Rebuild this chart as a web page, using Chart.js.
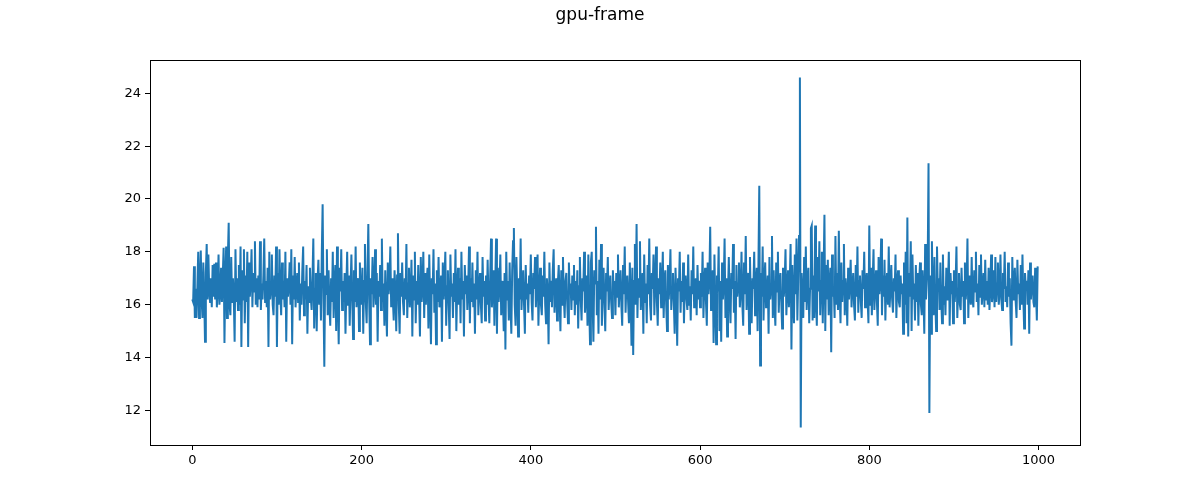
<!DOCTYPE html>
<html>
<head>
<meta charset="utf-8">
<title>gpu-frame</title>
<script src="https://cdn.jsdelivr.net/npm/chart.js@4.4.1/dist/chart.umd.min.js"></script>
<style>
  html, body { margin: 0; padding: 0; background: #fff; }
  #wrap { width: 1200px; height: 500px; }
</style>
</head>
<body>
<div id="wrap"><canvas id="gpuFrameChart" width="1200" height="500"></canvas></div>
<script>
// frame times, one value per frame (index 0..999)
const frameTimes = [
  16.2, 16.1, 17.45, 15.5, 16.6, 15.5, 16.7, 18.0, 15.5, 16.9,
  18.05, 16.2, 15.5, 17.6, 16.4, 14.6, 17.2, 18.3, 16.2, 17.9,
  16.5, 16.1, 17.0, 15.9, 17.5, 16.3, 17.55, 16.2, 17.6, 15.9,
  16.6, 17.9, 16.0, 16.4, 17.4, 16.1, 17.1, 18.15, 14.55, 17.0,
  18.2, 15.5, 17.8, 19.1, 16.0, 15.6, 17.8, 16.1, 17.0, 16.3,

  14.6, 18.1, 16.1, 17.0, 15.8, 17.5, 16.0, 18.2, 14.4, 17.3,
  16.2, 18.1, 15.3, 17.1, 16.1, 18.0, 14.4, 17.6, 16.3, 16.9,
  18.1, 15.9, 17.2, 16.5, 18.4, 16.0, 17.0, 15.9, 17.1, 16.2,
  18.4, 15.8, 16.8, 16.2, 17.1, 18.5, 16.1, 16.9, 15.9, 17.4,
  14.4, 18.0, 16.2, 16.6, 17.9, 16.0, 15.6, 17.1, 16.3, 18.2,

  14.4, 17.2, 16.0, 18.1, 16.4, 15.6, 17.6, 16.2, 16.9, 15.9,
  18.0, 14.6, 17.0, 16.3, 16.7, 17.6, 16.0, 18.1, 14.5, 17.1,
  16.2, 17.8, 15.9, 16.6, 17.2, 16.1, 17.6, 15.4, 16.8, 16.0,
  17.3, 18.2, 15.6, 16.9, 16.2, 17.5, 14.9, 16.7, 16.1, 17.4,
  16.3, 15.8, 17.0, 18.5, 15.1, 16.6, 17.2, 15.0, 16.9, 17.7,

  16.0, 17.2, 15.4, 17.9, 19.8, 16.2, 13.65, 17.1, 16.4, 18.1,
  15.6, 17.3, 16.0, 15.2, 17.0, 16.1, 18.0, 15.5, 16.8, 17.5,
  15.0, 18.2, 16.2, 14.5, 17.4, 16.5, 18.1, 15.8, 16.9, 16.1,
  17.2, 14.9, 16.6, 18.0, 16.0, 17.1, 15.2, 16.7, 17.9, 16.2,
  14.7, 17.3, 16.1, 18.2, 15.9, 16.8, 17.0, 15.0, 17.6, 16.3,

  16.0, 17.4, 14.9, 16.9, 18.3, 16.1, 15.3, 17.2, 19.05, 16.2,
  14.5, 17.0, 16.4, 17.8, 15.9, 16.6, 18.1, 16.0, 17.2, 14.6,
  16.9, 16.3, 17.5, 15.8, 18.5, 16.1, 16.8, 15.2, 17.3, 16.0,
  14.8, 17.6, 16.4, 16.9, 18.2, 15.9, 17.0, 16.2, 15.4, 17.3,
  16.5, 15.0, 17.1, 18.7, 16.0, 14.9, 17.2, 16.3, 17.6, 16.1,

  15.6, 17.0, 16.2, 18.3, 15.5, 16.8, 17.4, 15.9, 16.4, 17.7,
  14.8, 17.1, 16.2, 18.0, 15.3, 16.9, 16.0, 17.5, 16.3, 14.8,
  17.8, 16.1, 16.7, 18.0, 15.5, 17.2, 16.0, 16.9, 17.4, 15.1,
  17.9, 16.2, 14.5, 17.0, 16.4, 18.1, 15.7, 16.8, 14.5, 17.3,
  16.1, 17.8, 15.9, 16.5, 17.1, 14.6, 17.6, 16.2, 16.9, 18.0,

  15.2, 16.7, 17.3, 16.0, 14.7, 17.9, 16.3, 16.8, 15.5, 17.2,
  16.1, 18.1, 15.0, 16.6, 17.4, 16.0, 17.0, 15.3, 18.0, 16.2,
  16.9, 14.8, 17.5, 16.4, 17.1, 15.8, 16.6, 18.2, 15.3, 17.0,
  16.1, 17.6, 15.9, 16.8, 14.9, 17.3, 16.2, 18.0, 15.6, 16.5,
  17.2, 16.0, 15.3, 17.8, 16.3, 16.9, 15.4, 17.1, 16.0, 17.7,

  16.2, 15.3, 17.0, 18.5, 15.9, 16.6, 17.3, 15.2, 16.8, 18.5,
  14.9, 17.4, 16.1, 16.7, 17.9, 15.6, 16.9, 16.3, 15.0, 17.2,
  14.3, 18.0, 16.2, 16.9, 15.4, 17.6, 16.0, 14.9, 17.3, 18.4,
  18.9, 16.0, 15.2, 17.8, 16.4, 14.8, 17.0, 16.2, 18.5, 15.8,
  16.6, 17.3, 16.0, 14.9, 17.5, 16.2, 16.8, 15.7, 17.1, 16.4,

  17.9, 16.1, 15.4, 17.2, 16.6, 17.8, 15.9, 16.8, 17.9, 15.2,
  16.5, 17.4, 16.0, 15.6, 17.1, 16.3, 18.0, 16.0, 15.3, 17.0,
  16.4, 14.5, 17.6, 16.1, 16.9, 15.9, 17.3, 18.1, 15.7, 16.5,
  17.0, 15.4, 16.8, 17.5, 16.2, 15.0, 17.3, 16.0, 17.8, 16.3,
  15.5, 16.9, 17.2, 16.1, 15.3, 17.6, 16.4, 16.8, 15.8, 17.1,

  16.2, 17.5, 15.6, 16.9, 16.0, 17.3, 15.1, 16.7, 17.8, 16.2,
  15.4, 17.0, 16.5, 18.0, 15.7, 16.4, 17.1, 15.2, 17.9, 16.0,
  14.5, 17.6, 18.0, 16.1, 14.6, 17.3, 16.8, 18.95, 15.6, 16.9,
  14.9, 17.7, 16.2, 18.3, 15.2, 16.8, 17.4, 16.0, 15.0, 17.2,
  16.5, 17.8, 15.8, 16.6, 17.1, 16.1, 15.5, 17.3, 16.4, 16.9,

  15.6, 17.2, 16.3, 17.9, 15.9, 16.6, 17.3, 16.0, 15.2, 17.5,
  16.4, 18.2, 15.7, 16.8, 17.1, 16.1, 15.3, 17.6, 16.2, 14.45,
  17.4, 14.1, 16.9, 18.3, 16.0, 19.05, 15.5, 17.0, 16.3, 18.4,
  15.8, 16.7, 17.2, 14.9, 17.9, 16.1, 16.8, 15.3, 17.5, 16.4,
  18.5, 16.0, 15.4, 17.2, 16.6, 17.9, 15.6, 16.9, 18.2, 16.1,

  15.2, 17.0, 16.4, 17.6, 15.9, 16.7, 18.0, 15.5, 16.9, 17.3,
  16.0, 15.0, 17.5, 16.2, 16.8, 18.1, 15.8, 16.6, 17.2, 16.1,
  14.9, 17.4, 16.3, 14.45, 17.0, 16.5, 18.0, 15.7, 16.9, 16.1,
  17.6, 15.3, 16.8, 17.1, 16.2, 15.8, 17.9, 16.0, 16.7, 15.4,
  17.3, 16.4, 18.2, 15.9, 16.6, 17.0, 15.6, 17.5, 16.2, 16.9,

  15.9, 17.2, 16.3, 18.0, 15.5, 16.8, 17.4, 16.1, 15.2, 17.6,
  16.4, 17.0, 18.95, 15.8, 16.6, 17.3, 14.55, 17.9, 16.0, 14.5,
  17.1, 16.5, 18.2, 15.0, 16.9, 14.6, 17.6, 16.2, 16.8, 18.5,
  15.5, 17.0, 14.8, 16.4, 17.8, 16.1, 15.3, 17.2, 16.6, 18.3,
  15.7, 16.9, 14.7, 17.5, 16.3, 16.8, 17.6, 15.9, 16.5, 18.0,

  16.0, 15.2, 17.6, 16.4, 18.6, 15.8, 16.9, 17.2, 14.9, 17.8,
  16.1, 15.3, 17.0, 16.6, 18.0, 15.6, 16.8, 17.4, 15.0, 17.5,
  20.5, 13.7, 17.2, 16.3, 18.2, 15.4, 16.9, 17.6, 15.9, 16.4,
  17.1, 14.9, 17.8, 16.2, 16.7, 18.6, 15.5, 17.3, 16.0, 15.2,
  17.6, 16.5, 18.0, 15.7, 16.8, 17.2, 16.1, 15.1, 17.4, 16.3,

  16.9, 18.1, 15.6, 16.6, 17.3, 15.9, 16.8, 18.3, 14.3, 17.5,
  16.2, 15.3, 17.9, 16.4, 18.5, 15.4, 17.0, 18.6, 24.6, 11.35,
  17.2, 16.3, 15.5, 17.8, 16.1, 18.2, 15.8, 16.9, 17.4, 15.3,
  16.6, 18.9, 19.0, 15.4, 17.1, 15.5, 19.0, 16.2, 15.2, 17.8,
  16.5, 18.4, 15.6, 16.9, 18.0, 15.3, 17.2, 19.4, 15.0, 17.5,

  16.2, 17.7, 15.6, 16.8, 17.4, 14.2, 17.9, 16.3, 16.7, 15.5,
  18.6, 16.0, 17.2, 15.8, 18.8, 16.4, 15.3, 17.6, 16.1, 16.9,
  18.3, 15.6, 17.0, 16.5, 15.2, 17.4, 16.2, 16.8, 17.7, 15.9,
  16.6, 17.2, 16.0, 15.4, 17.5, 16.3, 18.2, 15.7, 16.9, 17.1,
  16.1, 15.5, 17.3, 16.6, 18.0, 15.9, 16.7, 17.2, 16.2, 15.3,

  19.0, 16.0, 17.4, 15.6, 16.9, 18.1, 15.8, 16.6, 17.3, 16.1,
  15.2, 17.8, 16.4, 16.9, 18.5, 15.6, 17.1, 16.3, 17.7, 15.4,
  16.8, 17.2, 16.0, 18.2, 15.9, 16.6, 17.5, 16.2, 15.7, 17.0,
  16.5, 17.9, 15.5, 16.8, 17.3, 16.1, 15.9, 17.1, 16.4, 16.8,
  14.9, 17.6, 16.0, 18.0, 15.3, 19.3, 14.8, 17.2, 16.3, 18.4,

  15.0, 17.9, 16.2, 16.8, 15.4, 17.5, 16.1, 17.2, 15.2, 16.9,
  17.6, 16.0, 15.6, 17.3, 16.4, 14.9, 18.3, 16.2, 16.9, 17.5,
  21.35, 11.9, 17.1, 14.9, 18.4, 16.3, 15.6, 17.8, 16.1, 15.0,
  18.2, 16.5, 17.0, 15.8, 17.6, 16.2, 15.3, 17.9, 16.0, 16.7,
  15.6, 17.4, 16.2, 16.8, 18.0, 15.2, 17.2, 16.4, 16.9, 15.3,

  17.3, 16.1, 16.8, 18.2, 15.5, 16.6, 17.2, 16.0, 15.8, 17.4,
  16.3, 16.9, 15.3, 17.6, 16.2, 16.7, 18.5, 15.5, 17.1, 16.4,
  16.0, 17.8, 16.2, 15.9, 17.3, 16.5, 18.0, 16.1, 16.8, 15.6,
  17.5, 16.3, 17.9, 16.0, 16.6, 17.2, 15.9, 17.7, 16.2, 16.9,
  16.0, 17.4, 15.8, 16.7, 17.9, 16.1, 16.5, 17.3, 15.9, 17.8,

  16.1, 16.8, 17.6, 16.0, 16.5, 17.9, 16.2, 15.8, 17.2, 16.6,
  18.0, 16.1, 16.7, 15.9, 17.6, 16.3, 17.0, 15.3, 14.45, 17.8,
  16.2, 16.9, 17.4, 16.1, 15.5, 17.7, 16.4, 16.8, 15.8, 17.5,
  16.0, 17.9, 16.3, 15.1, 17.2, 16.6, 16.9, 16.0, 17.3, 14.9,
  17.6, 16.2, 16.8, 17.1, 16.1, 15.9, 17.4, 16.5, 15.4, 17.45
];

// tick labels as on the reference axes
const xTicks = [0, 200, 400, 600, 800, 1000];
const yTicks = [12, 14, 16, 18, 20, 22, 24];

// axis limits (matplotlib style 5% margins)
const xMin = -50, xMax = 1049;
const yMin = 10.69, yMax = 25.26;

const tituloFigura = 'gpu-frame';

const puntos = frameTimes.map((v, i) => ({ x: i, y: v }));

// figure title centred on the whole canvas (like suptitle) + the closed axes box
const marcoPlugin = {
    id: 'marco',
    afterDraw(chart) {
        const { ctx, chartArea } = chart;
        ctx.save();
        ctx.strokeStyle = '#000';
        ctx.lineWidth = 1;
        ctx.strokeRect(Math.round(chartArea.left) + 0.5, Math.round(chartArea.top) + 0.5,
            Math.round(chartArea.right - chartArea.left), Math.round(chartArea.bottom - chartArea.top));

        ctx.fillStyle = '#000';
        ctx.font = '17px "DejaVu Sans"';
        ctx.textAlign = 'center';
        ctx.textBaseline = 'middle';
        ctx.fillText(tituloFigura, chart.width / 2, 16);
        ctx.restore();
    }
};

const ctx = document.getElementById('gpuFrameChart').getContext('2d');
new Chart(ctx, {
    type: 'line',
    data: {
        datasets: [{
            label: 'gpu-frame',
            data: puntos,
            borderColor: '#1f77b4',
            borderWidth: 2,
            pointRadius: 0,
            tension: 0,
            fill: false
        }]
    },
    options: {
        responsive: false,
        animation: false,
        devicePixelRatio: 1,
        layout: { padding: { left: 0, right: 120, top: 60, bottom: 0 } },
        plugins: {
            legend: { display: false },
            tooltip: { enabled: false },
            title: { display: false }
        },
        scales: {
            x: {
                type: 'linear',
                min: xMin,
                max: xMax,
                afterBuildTicks: (scale) => { scale.ticks = xTicks.map(v => ({ value: v })); },
                afterFit: (scale) => { scale.height = 55; },
                grid: { display: true, drawOnChartArea: false, tickLength: 5, color: '#000', tickColor: '#000' },
                border: { display: true, color: '#000' },
                ticks: {
                    color: '#000', padding: 3, maxRotation: 0,
                    font: { family: 'DejaVu Sans', size: 13 },
                    callback: (v) => String(v)
                }
            },
            y: {
                type: 'linear',
                min: yMin,
                max: yMax,
                afterBuildTicks: (scale) => { scale.ticks = yTicks.map(v => ({ value: v })); },
                afterFit: (scale) => { scale.width = 150; },
                grid: { display: true, drawOnChartArea: false, tickLength: 5, color: '#000', tickColor: '#000' },
                border: { display: true, color: '#000' },
                ticks: {
                    color: '#000', padding: 4,
                    font: { family: 'DejaVu Sans', size: 13 },
                    callback: (v) => String(v)
                }
            }
        }
    },
    plugins: [marcoPlugin]
});
</script>
</body>
</html>
